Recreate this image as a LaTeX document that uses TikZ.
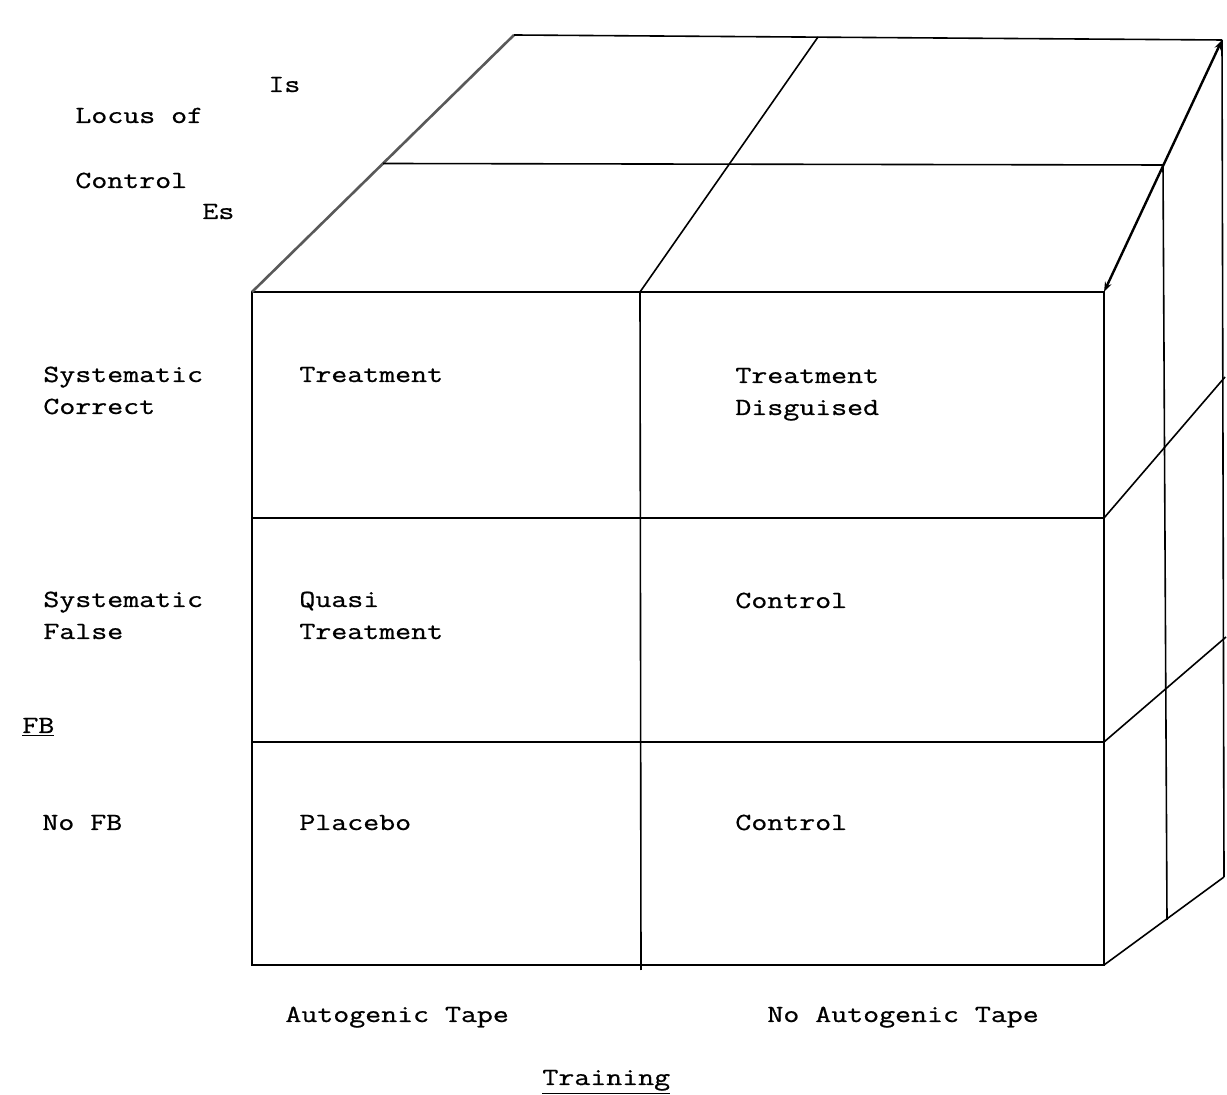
\documentclass[tikz,border=0pt]{standalone}
\usepackage{fontspec}
\newfontfamily\typefont[FakeStretch=1.26,FakeBold=0.8]{Latin Modern Mono}
\usetikzlibrary{arrows.meta,calc}
\tikzset{
	lbl/.style={font=\fontsize{12.3}{16}\selectfont\typefont, anchor=base west, inner sep=0pt, align=left},
	edge/.style={line width=0.8pt, black},
}
\begin{document}
\begin{tikzpicture}[x=0.5pt,y=-0.5pt]
	\useasboundingbox (0,0) rectangle (1227,1095);
	
	% front face
	\coordinate (F1) at (252,292);
	\coordinate (F2) at (1104,292);
	\coordinate (F3) at (1104,965);
	\coordinate (F4) at (252,965);
	\coordinate (FmT) at (640,292);
	\coordinate (FmB) at (641,970);
	\coordinate (Fr1L) at (252,518);
	\coordinate (Fr1R) at (1104,518);
	\coordinate (Fr2L) at (252,742);
	\coordinate (Fr2R) at (1104,742);
	
	% top face
	\coordinate (B1) at (514,35);
	\coordinate (B2) at (1222,40);
	\coordinate (BmT) at (818,37);
	\coordinate (TmL) at ($(F1)!0.5!(B1)$);
	\coordinate (TmR) at (1163,165);
	
	% right face
	\coordinate (B3) at (1224,877);
	\coordinate (RmB) at (1167,920);
	\coordinate (Rr1) at (1225,377);
	\coordinate (Rr2) at (1226,637);
	
	\draw[edge](F1)--(F2)--(F3)--(F4)--cycle;
	\draw[edge](FmT)--(FmB);
	\draw[edge](Fr1L)--(Fr1R);
	\draw[edge](Fr2L)--(Fr2R);
	
	\draw[line width=1.3pt][gray!70!black](F1)--(B1);
	\draw[edge](B1)--(B2);
	\draw[edge](TmL)--(TmR);
	\draw[edge](FmT)--(BmT);
	\draw[line width=1.2pt][black][{Stealth[length=5pt,width=3.5pt]}-{Stealth[length=5pt,width=3.5pt]}](F2)--(B2);
	
	\draw[edge](B2)--(B3);
	\draw[edge](TmR)--(RmB);
	\draw[edge](Fr1R)--(Rr1);
	\draw[edge](Fr2R)--(Rr2);
	\draw[edge](F3)--(B3);
	
	\node[lbl] (is) at (268,92) {Is};
	\node[lbl] (locus) at (75,123) {Locus of};
	\node[lbl] (control) at (75,188) {Control};
	\node[lbl] (es) at (202,219) {Es};
	
	\node[lbl] (syscor) at (43,414) {Systematic\\Correct};
	\node[lbl] (sysfal) at (43,639) {Systematic\\False};
	\node[lbl] (fb) at (22,733) {\underline{FB}};
	\node[lbl] (nofb) at (42,830) {No FB};
	
	\node[lbl] (treat) at (299,382) {Treatment};
	\node[lbl] (treatdis) at (735,415) {Treatment\\Disguised};
	\node[lbl] (quasi) at (299,639) {Quasi\\Treatment};
	\node[lbl] (controlA) at (735,608) {Control};
	\node[lbl] (placebo) at (299,830) {Placebo};
	\node[lbl] (controlB) at (735,830) {Control};
	
	\node[lbl] (auto) at (285,1022) {Autogenic Tape};
	\node[lbl] (noauto) at (767,1022) {No Autogenic Tape};
	\node[lbl] (training) at (542,1085) {\underline{Training}};
\end{tikzpicture}
\end{document}
